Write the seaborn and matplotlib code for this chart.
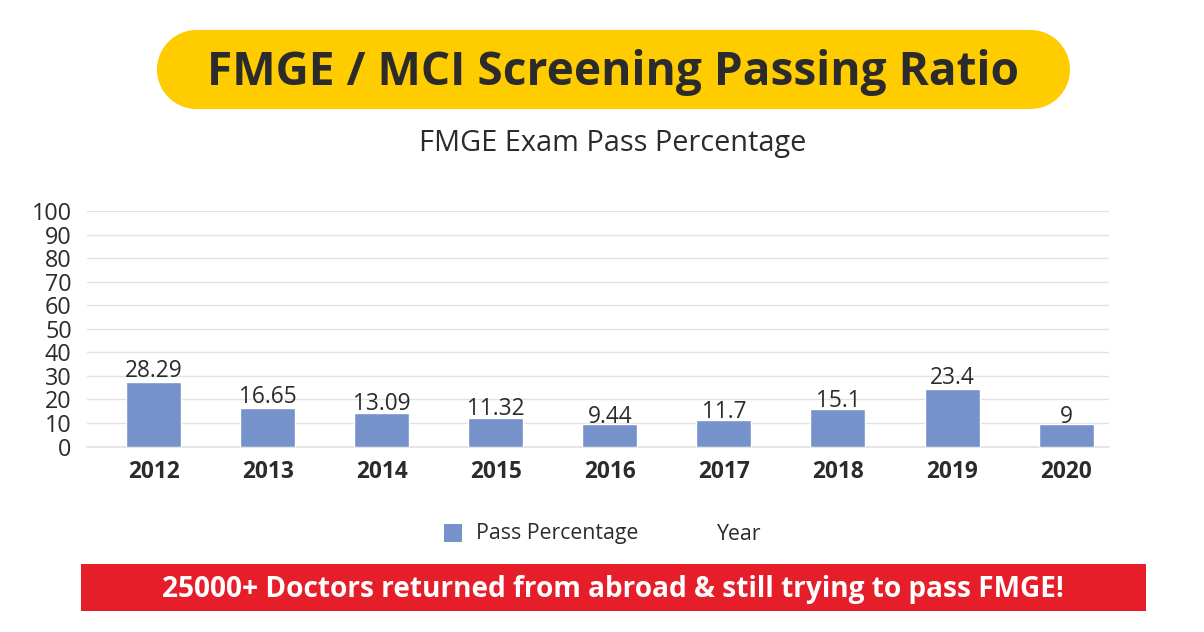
import matplotlib
matplotlib.use("Agg")
import matplotlib.pyplot as plt
from matplotlib.patches import Circle, Rectangle
import pandas as pd
import seaborn as sns

years = ["2012", "2013", "2014", "2015", "2016", "2017", "2018", "2019", "2020"]
# bar heights as drawn in the picture, the printed labels don't quite match them
bar_heights = [27.3, 16.3, 14.2, 11.9, 9.4, 11.3, 16.0, 24.5, 9.4]
pct_labels = ["28.29", "16.65", "13.09", "11.32", "9.44", "11.7", "15.1", "23.4", "9"]
yticks = [0, 10, 20, 30, 40, 50, 60, 70, 80, 90, 100]
# gap between bar top and label baseline, in px
label_gaps = [5, 5, 3, 3, 1, 2, 2, 5, 1]

sns.set_theme(style="white")
plt.rcParams["font.family"] = ["Open Sans", "DejaVu Sans"]

W, H = 1204, 632
DARK = "#2b2b2b"
BAR = "#7592ca"
YELLOW = "#ffcc00"
fig = plt.figure(figsize=(W / 100, H / 100), dpi=100, facecolor="white")

# background layer in pixel coords
bg = fig.add_axes([0, 0, 1, 1])
bg.set_xlim(0, W)
bg.set_ylim(H, 0)
bg.axis("off")
# title pill, true half circles at the ends
bg.add_patch(Rectangle((196.5, 30), 834, 79, fc=YELLOW, ec="none"))
bg.add_patch(Circle((196.5, 69.5), 39.5, fc=YELLOW, ec="none"))
bg.add_patch(Circle((1030.5, 69.5), 39.5, fc=YELLOW, ec="none"))
bg.text(613, 72, "FMGE / MCI Screening Passing Ratio", ha="center", va="center",
        fontsize=33.1, fontweight="bold", color=DARK)
bg.text(613, 144, "FMGE Exam Pass Percentage", ha="center", va="center",
        fontsize=20.8, color=DARK)
bg.add_patch(Rectangle((81, 564), 1065, 47, fc="#e61e2a", ec="none"))
bg.text(613, 589, "25000+ Doctors returned from abroad & still trying to pass FMGE!",
        ha="center", va="center", fontsize=20.2, fontweight="bold", color="white")

# legend
bg.add_patch(Rectangle((444, 524), 18, 18, fc=BAR, ec="none"))
bg.text(476, 533, "Pass Percentage", ha="left", va="center", fontsize=15.3, color=DARK)
bg.text(717, 534, "Year", ha="left", va="center", fontsize=15.3, color=DARK)

# plot area
x0, x1, y_top, y_bot = 87, 1109, 211, 446.5
ax = fig.add_axes([x0 / W, 1 - y_bot / H, (x1 - x0) / W, (y_bot - y_top) / H])
ax.patch.set_alpha(0)
df = pd.DataFrame({"year": years, "height": bar_heights})
sns.barplot(data=df, x="year", y="height", color=BAR, width=0.4825, saturation=1, ax=ax, zorder=3)
ax.set_ylim(0, 100)
ax.set_xlim(-0.587, 8.377)
ax.set_yticks(yticks)
ax.set_xlabel("")
ax.set_ylabel("")
ax.grid(axis="y", color="#e2e2e2", linewidth=1, zorder=0)
ax.grid(axis="x", visible=False)
for s in ["top", "right", "left"]:
    ax.spines[s].set_visible(False)
ax.spines["bottom"].set_color("#e2e2e2")
ax.tick_params(axis="y", length=0, labelsize=16.8, labelcolor=DARK, pad=11)
ax.tick_params(axis="x", length=0, labelsize=16.3, labelcolor=DARK, pad=9.5)
for t in ax.get_xticklabels():
    t.set_fontweight("bold")

for i, lab in enumerate(pct_labels):
    ax.annotate(lab, (i, bar_heights[i]), xytext=(0, label_gaps[i] * 0.72), textcoords="offset points",
                ha="center", va="baseline", fontsize=16.3, color=DARK, zorder=4)

fig.savefig("out.png", dpi=100)
